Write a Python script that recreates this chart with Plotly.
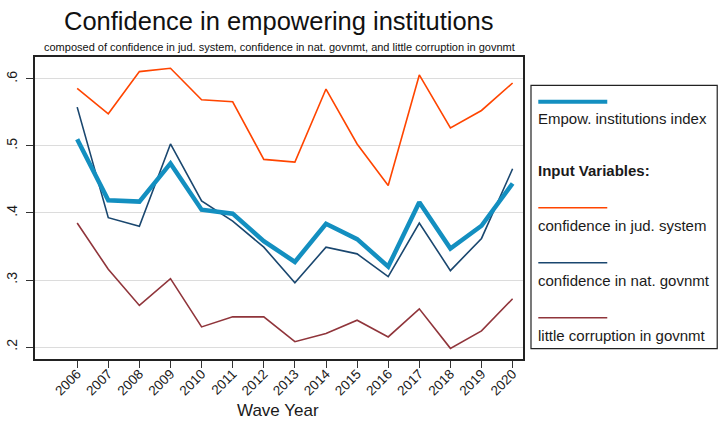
import plotly.graph_objects as go

years = list(range(2006, 2021))
index_vals = [0.510, 0.419, 0.417, 0.474, 0.405, 0.399, 0.358, 0.327, 0.384, 0.361, 0.320, 0.416, 0.347, 0.381, 0.444]
jud_vals = [0.586, 0.548, 0.611, 0.616, 0.569, 0.566, 0.480, 0.476, 0.585, 0.503, 0.441, 0.606, 0.527, 0.553, 0.594]
gov_vals = [0.558, 0.393, 0.380, 0.503, 0.418, 0.388, 0.349, 0.296, 0.349, 0.339, 0.305, 0.385, 0.314, 0.362, 0.466]
corr_vals = [0.385, 0.316, 0.262, 0.302, 0.230, 0.245, 0.245, 0.208, 0.220, 0.240, 0.215, 0.257, 0.198, 0.224, 0.272]

y_ticks = [0.2, 0.3, 0.4, 0.5, 0.6]
y_tick_text = [".2", ".3", ".4", ".5", ".6"]

series = [
    ("Empow. institutions index", index_vals, "#138fc0", 4.5),
    ("confidence in jud. system", jud_vals, "#ff4500", 1.6),
    ("confidence in nat. govnmt", gov_vals, "#1a476f", 1.6),
    ("little corruption in govnmt", corr_vals, "#90353b", 1.6),
]

W, H = 722, 426
L, R, T, B = 34.5, 522.7, 57.3, 359.3

fig = go.Figure()
for name, vals, col, w in series[1:] + series[:1]:
    fig.add_trace(go.Scatter(x=years, y=vals, mode="lines", name=name,
                             line=dict(color=col, width=w), showlegend=False))

def px(x):
    return (x - L) / (R - L)

def py(y):
    return (B - y) / (B - T)

shapes = []
annotations = []
shapes.append(dict(type="rect", xref="paper", yref="paper",
                   x0=px(530.7), x1=px(717), y0=py(349), y1=py(85.7),
                   line=dict(color="#222222", width=1.2), fillcolor="white"))
leg_items = [
    (series[0], 102, 119),
    (series[1], 208, 226),
    (series[2], 263, 281),
    (series[3], 318, 336),
]
for (name, vals, col, w), ly, ty in leg_items:
    shapes.append(dict(type="line", xref="paper", yref="paper",
                       x0=px(538), x1=px(607), y0=py(ly), y1=py(ly),
                       line=dict(color=col, width=4 if w > 3 else 1.6)))
    annotations.append(dict(xref="paper", yref="paper", x=px(536), y=py(ty),
                            text=name, showarrow=False, xanchor="left", yanchor="middle",
                            font=dict(size=15, color="#1a1a1a")))
annotations.append(dict(xref="paper", yref="paper", x=px(536), y=py(171),
                        text="<b>Input Variables:</b>", showarrow=False,
                        xanchor="left", yanchor="middle",
                        font=dict(size=15, color="#1a1a1a")))
annotations.append(dict(xref="paper", yref="paper", x=px(279), y=py(21),
                        text="Confidence in empowering institutions", showarrow=False,
                        xanchor="center", yanchor="middle",
                        font=dict(size=25.5, color="#111111")))
annotations.append(dict(xref="paper", yref="paper", x=px(279.5), y=py(47.5),
                        text="composed of confidence in jud. system, confidence in nat. govnmt, and little corruption in govnmt",
                        showarrow=False, xanchor="center", yanchor="middle",
                        font=dict(size=11, color="#111111")))
annotations.append(dict(xref="paper", yref="paper", x=px(278), y=py(411),
                        text="Wave Year", showarrow=False,
                        xanchor="center", yanchor="middle",
                        font=dict(size=17, color="#1a1a1a")))

fig.update_layout(
    width=W, height=H,
    margin=dict(l=L, r=W - R, t=T, b=H - B, pad=0, autoexpand=False),
    paper_bgcolor="white", plot_bgcolor="white",
    font=dict(family="Liberation Sans, Arial, sans-serif", color="#1a1a1a"),
    shapes=shapes, annotations=annotations,
    showlegend=False,
)
fig.update_xaxes(range=[2004.644, 2020.334], tickmode="array", tickvals=years,
                 ticktext=[str(y) for y in years], tickangle=-45, automargin=False,
                 ticks="outside", ticklen=7, tickwidth=1.2, tickcolor="#333333",
                 tickfont=dict(size=13.5, color="#1a1a1a"), ticklabelstandoff=-7,
                 showgrid=False, zeroline=False,
                 showline=True, mirror=True, linecolor="#222222", linewidth=1.5)
fig.update_yaxes(range=[0.1821, 0.6328], tickmode="array", tickvals=y_ticks,
                 ticktext=y_tick_text, tickangle=-90, automargin=False,
                 ticks="outside", ticklen=7, tickwidth=1.2, tickcolor="#333333",
                 tickfont=dict(size=14, color="#1a1a1a"), ticklabelstandoff=4,
                 showgrid=True, gridcolor="#dcdcdc", gridwidth=1, zeroline=False,
                 showline=True, mirror=True, linecolor="#222222", linewidth=1.5)

fig.write_html("out.html", config={"displayModeBar": False},
               post_script="document.body.style.margin='0px';")
